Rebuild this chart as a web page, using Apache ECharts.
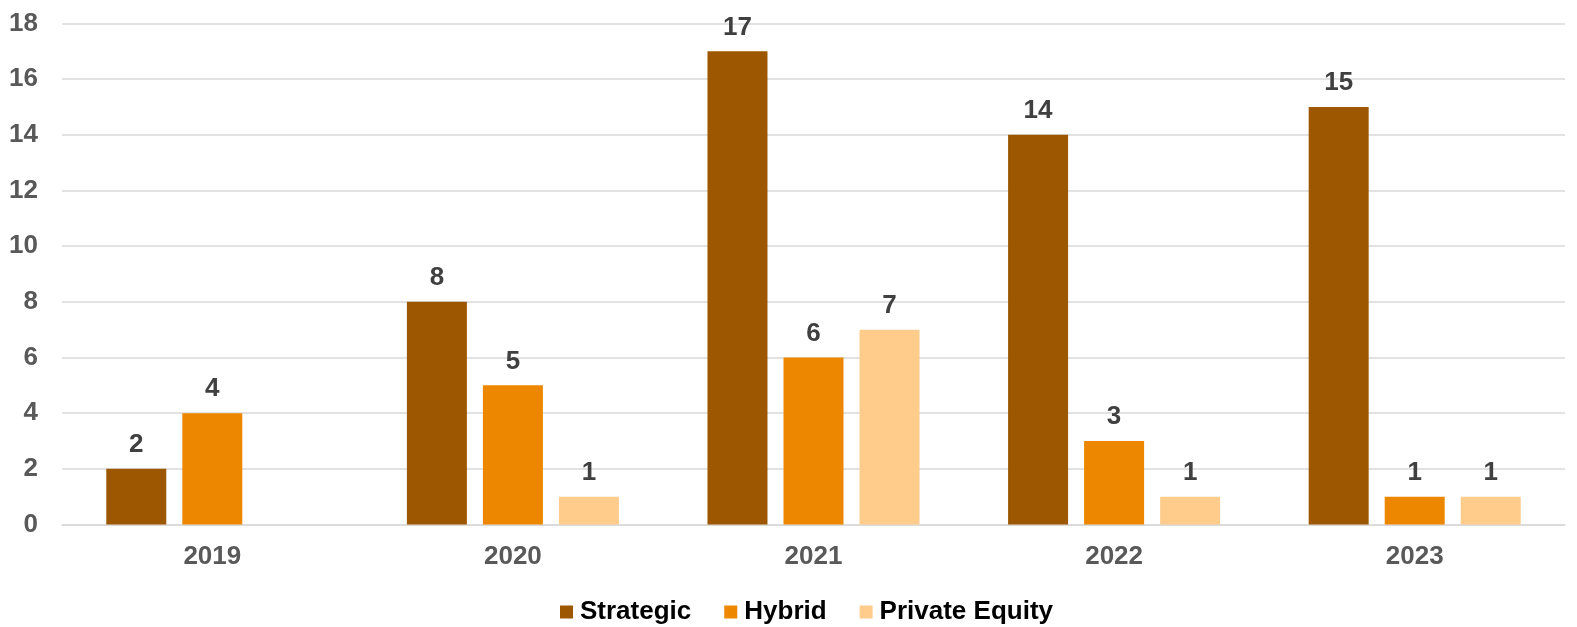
<!DOCTYPE html>
<html>
<head>
<meta charset="utf-8">
<script src="https://cdn.jsdelivr.net/npm/echarts@6/dist/echarts.min.js"></script>
<style>
  html, body { margin: 0; padding: 0; background: #ffffff; }
  #chart { width: 1577px; height: 627px; }
</style>
</head>
<body>
<div id="chart"></div>
<script>
// Deal counts by buyer type, per year
const years = ['2019', '2020', '2021', '2022', '2023'];
const strategic = [2, 8, 17, 14, 15];
const hybrid = [4, 5, 6, 3, 1];
const privateEquity = [null, 1, 7, 1, 1];

const seriesNames = ['Strategic', 'Hybrid', 'Private Equity'];
const seriesColors = ['#9C5700', '#EE8700', '#FFCC8C'];
const seriesData = [strategic, hybrid, privateEquity];

const FONT = '"Liberation Sans", Arial, sans-serif';
const FONT_SIZE = 26;

const chart = echarts.init(document.getElementById('chart'), null, { renderer: 'canvas' });

chart.setOption({
  backgroundColor: '#ffffff',
  animation: false,
  textStyle: { fontFamily: FONT },
  grid: { left: 62, right: 12, top: 23.5, bottom: 102.5, containLabel: false },
  legend: {
    top: 594,
    left: 555,
    itemWidth: 13,
    itemHeight: 13,
    itemGap: 33,
    icon: 'rect',
    textStyle: { fontFamily: FONT, fontSize: FONT_SIZE, fontWeight: 'bold', color: '#000000', padding: [0, 0, 0, 2] },
    data: seriesNames
  },
  xAxis: {
    type: 'category',
    data: years,
    axisLine: { lineStyle: { color: '#D9D9D9', width: 1.5 } },
    axisTick: { show: false },
    axisLabel: { fontFamily: FONT, fontSize: FONT_SIZE, fontWeight: 'bold', color: '#595959', margin: 19 }
  },
  yAxis: {
    type: 'value',
    min: 0,
    max: 18,
    interval: 2,
    axisLine: { show: false },
    axisTick: { show: false },
    splitLine: { lineStyle: { color: '#D9D9D9', width: 1.5 } },
    axisLabel: { fontFamily: FONT, fontSize: FONT_SIZE, fontWeight: 'bold', color: '#595959', margin: 24 }
  },
  series: seriesNames.map((name, i) => ({
    name: name,
    type: 'bar',
    data: seriesData[i],
    barWidth: 60,
    barGap: '26.7%',
    itemStyle: { color: seriesColors[i] },
    label: {
      show: true,
      position: 'top',
      distance: 11,
      fontFamily: FONT,
      fontSize: FONT_SIZE,
      fontWeight: 'bold',
      color: '#404040'
    }
  }))
});
</script>
</body>
</html>
